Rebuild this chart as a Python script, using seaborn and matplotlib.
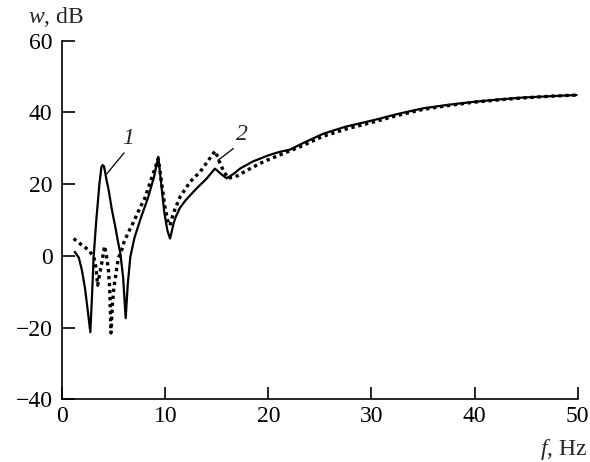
import matplotlib
matplotlib.use("Agg")
import matplotlib.pyplot as plt
import seaborn as sns
import pandas as pd

# Curve 1 (solid)
sol_f = [1.2, 1.6, 1.9, 2.2, 2.5, 2.72, 2.9, 3.04, 3.3, 3.6, 3.8, 3.92, 4.05, 4.3, 4.5, 4.8,
         5.14, 5.4, 5.63, 5.9, 6.15, 6.35, 6.6, 7.0, 7.66, 8.3, 8.9, 9.31, 9.6, 9.9, 10.2,
         10.45, 10.6, 10.8, 11.0, 11.42, 12.0, 13.04, 14.0, 14.81, 15.4, 15.95, 16.6, 17.24,
         18.5, 20.0, 21.0, 22.1, 23.5, 25.3, 27.5, 30.2, 32.5, 35.0, 37.5, 39.9, 42.5, 44.7,
         47.5, 49.9]
sol_w = [1.1, -0.5, -4, -9, -16, -21.3, -10, -0.3, 10, 20, 24.8, 25.3, 24.9, 21, 18.3, 13,
         8.1, 4, 0.7, -6, -17.4, -8, -0.3, 5, 10.9, 16, 22, 27.6, 20, 12, 7,
         4.8, 6.5, 9.0, 10.8, 13.4, 15.6, 18.8, 21.5, 24.3, 22.8, 21.6, 22.8, 24.3,
         26.3, 28.0, 28.9, 29.6, 31.6, 34.0, 36.0, 37.8, 39.5, 41.1, 42.1, 42.9, 43.6, 44.1,
         44.5, 44.8]

# Curve 2 (dotted)
dot_f = [1.1, 1.8, 2.56, 3.05, 3.25, 3.43, 3.66, 3.82, 3.98, 4.1, 4.3, 4.46, 4.6, 4.72,
         4.85, 5.0, 5.18, 5.43, 5.76, 6.0, 6.44, 6.93, 7.57, 8.0, 8.83, 9.31, 9.64, 9.96,
         10.28, 10.45, 10.77, 11.42, 12.4, 13.4, 14.65, 14.85, 15.2, 15.6, 16.1, 17.0,
         17.9, 19.5, 21.1, 23.0, 25.3, 27.5, 30.2, 32.5, 35.0, 37.5, 39.9, 42.5, 44.7,
         47.5, 49.9]
dot_w = [4.8, 3.2, 1.6, -0.3, -3, -8.2, -4.5, -2.1, 0.7, 2.7, -0.3, -3.5, -9, -21.5,
         -14, -9, -5.5, -0.7, 1.6, 3.9, 6.7, 9.5, 13.6, 16, 23, 27.1, 20.2, 13.6,
         9.0, 8.5, 11.8, 16.4, 20.6, 23.5, 28.5, 29.2, 26.5, 23.9, 21.6, 22.3,
         23.8, 26.2, 28.1, 30.3, 33.3, 35.3, 37.3, 39.1, 40.8, 41.9, 42.8, 43.5, 44.0,
         44.5, 44.8]

x_ticks = [0, 10, 20, 30, 40, 50]
y_ticks = [-40, -20, 0, 20, 40, 60]

sns.set_style("ticks")
plt.rcParams['font.family'] = ['Liberation Serif', 'DejaVu Serif']
plt.rcParams['font.serif'] = ['Liberation Serif', 'DejaVu Serif']
plt.rcParams['mathtext.fontset'] = 'custom'
plt.rcParams['mathtext.rm'] = 'Liberation Serif'
plt.rcParams['mathtext.it'] = 'Liberation Serif:italic'

fig = plt.figure(figsize=(5.9, 4.62), dpi=100)
ax = fig.add_axes([0.1056, 0.1357, 0.9790 - 0.1056, 0.9123 - 0.1357])

df1 = pd.DataFrame({"f": sol_f, "w": sol_w})
df2 = pd.DataFrame({"f": dot_f, "w": dot_w})

sns.lineplot(data=df1, x="f", y="w", ax=ax, color="black", linewidth=1.6,
             estimator=None, sort=False)
sns.lineplot(data=df2, x="f", y="w", ax=ax, color="black", linewidth=2.4,
             linestyle=(0, (1, 1.1)), dash_capstyle="butt",
             estimator=None, sort=False)

ax.set_xlim(0, 50)
ax.set_ylim(-40, 60)
ax.set_xticks(x_ticks)
ax.set_yticks(y_ticks)
ax.set_xticklabels([str(t) for t in x_ticks], family="Liberation Serif")
ax.set_yticklabels([str(t).replace('-', '\u2212') for t in y_ticks], family="Liberation Serif")
ax.set_xlabel("")
ax.set_ylabel("")
for s in ["top", "right"]:
    ax.spines[s].set_visible(False)
for s in ["left", "bottom"]:
    ax.spines[s].set_linewidth(1.2)
    ax.spines[s].set_color("black")
ax.tick_params(direction="in", length=9, width=1.2, labelsize=17, colors="black")
ax.tick_params(axis="x", pad=5)
ax.tick_params(axis="y", pad=7)

# annotations
ax.text(6.4, 32.7, "1", fontsize=17, family="Liberation Serif", style="italic",
        ha="center", va="center")
ax.plot([6.0, 4.3], [28.7, 22.8], color="black", linewidth=0.9)
ax.text(17.4, 33.8, "2", fontsize=17, family="Liberation Serif", style="italic",
        ha="center", va="center")
ax.plot([16.6, 15.1], [29.9, 26.6], color="black", linewidth=0.9)

fig.text(28 / 590, 1 - 17 / 462, "$w$, dB", fontsize=17, family="Liberation Serif",
         ha="left", va="center")
fig.text(587 / 590, 1 - 450 / 462, "$f$, Hz", fontsize=17, family="Liberation Serif",
         ha="right", va="center")

fig.savefig("out.png", dpi=100)
